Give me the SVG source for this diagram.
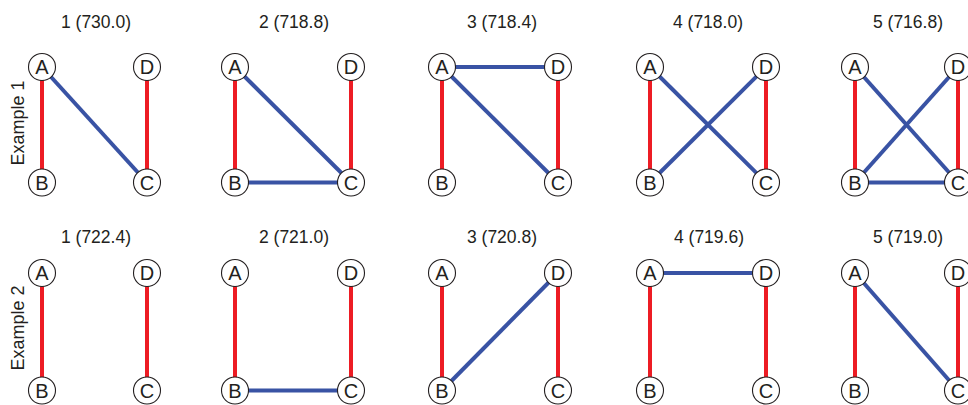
<svg xmlns="http://www.w3.org/2000/svg" width="968" height="405" viewBox="0 0 968 405">
  <style>
    .title { font-family: "Liberation Sans", Arial, sans-serif; font-size: 17.5px; fill: #231f20; text-anchor: middle; }
    .row { font-family: "Liberation Sans", Arial, sans-serif; font-size: 18px; fill: #231f20; text-anchor: middle; }
    .node circle { fill: #ffffff; stroke: #231f20; stroke-width: 1.1; }
    .node text { font-family: "Liberation Sans", Arial, sans-serif; font-size: 20px; fill: #231f20; text-anchor: middle; }
    .red { stroke: #ed1c24; stroke-width: 4; fill: none; }
    .blue { stroke: #3953a4; stroke-width: 4; fill: none; }
  </style>
  <rect width="968" height="405" fill="#ffffff"/>

  <!-- row labels -->
  <text class="row" transform="translate(24,123) rotate(-90)">Example 1</text>
  <text class="row" transform="translate(24,328) rotate(-90)">Example 2</text>

  <!-- panel titles -->
  <g id="titles">
    <text class="title" x="96" y="28">1 (730.0)</text>
    <text class="title" x="294" y="28">2 (718.8)</text>
    <text class="title" x="502" y="28">3 (718.4)</text>
    <text class="title" x="708" y="28">4 (718.0)</text>
    <text class="title" x="908" y="28">5 (716.8)</text>
    <text class="title" x="96" y="243">1 (722.4)</text>
    <text class="title" x="294" y="243">2 (721.0)</text>
    <text class="title" x="502" y="243">3 (720.8)</text>
    <text class="title" x="709" y="243">4 (719.6)</text>
    <text class="title" x="908" y="243">5 (719.0)</text>
  </g>

  <!-- edges -->
  <g id="connectors">
    <!-- row 1 -->
    <line class="red" x1="42" y1="67" x2="42" y2="182.5"/>
    <line class="red" x1="147" y1="67" x2="147" y2="182.5"/>
    <line class="blue" x1="42" y1="67" x2="147" y2="182.5"/>

    <line class="red" x1="235" y1="67" x2="235" y2="182.5"/>
    <line class="red" x1="351" y1="67" x2="351" y2="182.5"/>
    <line class="blue" x1="235" y1="67" x2="351" y2="182.5"/>
    <line class="blue" x1="235" y1="182.5" x2="351" y2="182.5"/>

    <line class="red" x1="442" y1="67" x2="442" y2="182.5"/>
    <line class="red" x1="558" y1="67" x2="558" y2="182.5"/>
    <line class="blue" x1="442" y1="67" x2="558" y2="67"/>
    <line class="blue" x1="442" y1="67" x2="558" y2="182.5"/>

    <line class="red" x1="650" y1="67" x2="650" y2="182.5"/>
    <line class="red" x1="766" y1="67" x2="766" y2="182.5"/>
    <line class="blue" x1="650" y1="67" x2="766" y2="182.5"/>
    <line class="blue" x1="650" y1="182.5" x2="766" y2="67"/>

    <line class="red" x1="855" y1="67" x2="855" y2="182.5"/>
    <line class="red" x1="958" y1="67" x2="958" y2="182.5"/>
    <line class="blue" x1="855" y1="67" x2="958" y2="182.5"/>
    <line class="blue" x1="855" y1="182.5" x2="958" y2="67"/>
    <line class="blue" x1="855" y1="182.5" x2="958" y2="182.5"/>

    <!-- row 2 -->
    <line class="red" x1="42" y1="273" x2="42" y2="390.5"/>
    <line class="red" x1="147" y1="273" x2="147" y2="390.5"/>

    <line class="red" x1="235" y1="273" x2="235" y2="390.5"/>
    <line class="red" x1="351" y1="273" x2="351" y2="390.5"/>
    <line class="blue" x1="235" y1="390.5" x2="351" y2="390.5"/>

    <line class="red" x1="442" y1="273" x2="442" y2="390.5"/>
    <line class="red" x1="558" y1="273" x2="558" y2="390.5"/>
    <line class="blue" x1="442" y1="390.5" x2="558" y2="273"/>

    <line class="red" x1="650" y1="273" x2="650" y2="390.5"/>
    <line class="red" x1="766" y1="273" x2="766" y2="390.5"/>
    <line class="blue" x1="650" y1="273" x2="766" y2="273"/>

    <line class="red" x1="855" y1="273" x2="855" y2="390.5"/>
    <line class="red" x1="958" y1="273" x2="958" y2="390.5"/>
    <line class="blue" x1="855" y1="273" x2="958" y2="390.5"/>
  </g>

  <!-- nodes, row 1 -->
  <g id="r1p1A" class="node"><circle cx="42" cy="67" r="13.5"/><text x="42" y="74.2">A</text></g>
  <g id="r1p1B" class="node"><circle cx="42" cy="182.5" r="13.5"/><text x="42" y="189.7">B</text></g>
  <g id="r1p1C" class="node"><circle cx="147" cy="182.5" r="13.5"/><text x="147" y="189.7">C</text></g>
  <g id="r1p1D" class="node"><circle cx="147" cy="67" r="13.5"/><text x="147" y="74.2">D</text></g>

  <g id="r1p2A" class="node"><circle cx="235" cy="67" r="13.5"/><text x="235" y="74.2">A</text></g>
  <g id="r1p2B" class="node"><circle cx="235" cy="182.5" r="13.5"/><text x="235" y="189.7">B</text></g>
  <g id="r1p2C" class="node"><circle cx="351" cy="182.5" r="13.5"/><text x="351" y="189.7">C</text></g>
  <g id="r1p2D" class="node"><circle cx="351" cy="67" r="13.5"/><text x="351" y="74.2">D</text></g>

  <g id="r1p3A" class="node"><circle cx="442" cy="67" r="13.5"/><text x="442" y="74.2">A</text></g>
  <g id="r1p3B" class="node"><circle cx="442" cy="182.5" r="13.5"/><text x="442" y="189.7">B</text></g>
  <g id="r1p3C" class="node"><circle cx="558" cy="182.5" r="13.5"/><text x="558" y="189.7">C</text></g>
  <g id="r1p3D" class="node"><circle cx="558" cy="67" r="13.5"/><text x="558" y="74.2">D</text></g>

  <g id="r1p4A" class="node"><circle cx="650" cy="67" r="13.5"/><text x="650" y="74.2">A</text></g>
  <g id="r1p4B" class="node"><circle cx="650" cy="182.5" r="13.5"/><text x="650" y="189.7">B</text></g>
  <g id="r1p4C" class="node"><circle cx="766" cy="182.5" r="13.5"/><text x="766" y="189.7">C</text></g>
  <g id="r1p4D" class="node"><circle cx="766" cy="67" r="13.5"/><text x="766" y="74.2">D</text></g>

  <g id="r1p5A" class="node"><circle cx="855" cy="67" r="13.5"/><text x="855" y="74.2">A</text></g>
  <g id="r1p5B" class="node"><circle cx="855" cy="182.5" r="13.5"/><text x="855" y="189.7">B</text></g>
  <g id="r1p5C" class="node"><circle cx="958" cy="182.5" r="13.5"/><text x="958" y="189.7">C</text></g>
  <g id="r1p5D" class="node"><circle cx="958" cy="67" r="13.5"/><text x="958" y="74.2">D</text></g>

  <!-- nodes, row 2 -->
  <g id="r2p1A" class="node"><circle cx="42" cy="273" r="13.5"/><text x="42" y="280.2">A</text></g>
  <g id="r2p1B" class="node"><circle cx="42" cy="390.5" r="13.5"/><text x="42" y="397.7">B</text></g>
  <g id="r2p1C" class="node"><circle cx="147" cy="390.5" r="13.5"/><text x="147" y="397.7">C</text></g>
  <g id="r2p1D" class="node"><circle cx="147" cy="273" r="13.5"/><text x="147" y="280.2">D</text></g>

  <g id="r2p2A" class="node"><circle cx="235" cy="273" r="13.5"/><text x="235" y="280.2">A</text></g>
  <g id="r2p2B" class="node"><circle cx="235" cy="390.5" r="13.5"/><text x="235" y="397.7">B</text></g>
  <g id="r2p2C" class="node"><circle cx="351" cy="390.5" r="13.5"/><text x="351" y="397.7">C</text></g>
  <g id="r2p2D" class="node"><circle cx="351" cy="273" r="13.5"/><text x="351" y="280.2">D</text></g>

  <g id="r2p3A" class="node"><circle cx="442" cy="273" r="13.5"/><text x="442" y="280.2">A</text></g>
  <g id="r2p3B" class="node"><circle cx="442" cy="390.5" r="13.5"/><text x="442" y="397.7">B</text></g>
  <g id="r2p3C" class="node"><circle cx="558" cy="390.5" r="13.5"/><text x="558" y="397.7">C</text></g>
  <g id="r2p3D" class="node"><circle cx="558" cy="273" r="13.5"/><text x="558" y="280.2">D</text></g>

  <g id="r2p4A" class="node"><circle cx="650" cy="273" r="13.5"/><text x="650" y="280.2">A</text></g>
  <g id="r2p4B" class="node"><circle cx="650" cy="390.5" r="13.5"/><text x="650" y="397.7">B</text></g>
  <g id="r2p4C" class="node"><circle cx="766" cy="390.5" r="13.5"/><text x="766" y="397.7">C</text></g>
  <g id="r2p4D" class="node"><circle cx="766" cy="273" r="13.5"/><text x="766" y="280.2">D</text></g>

  <g id="r2p5A" class="node"><circle cx="855" cy="273" r="13.5"/><text x="855" y="280.2">A</text></g>
  <g id="r2p5B" class="node"><circle cx="855" cy="390.5" r="13.5"/><text x="855" y="397.7">B</text></g>
  <g id="r2p5C" class="node"><circle cx="958" cy="390.5" r="13.5"/><text x="958" y="397.7">C</text></g>
  <g id="r2p5D" class="node"><circle cx="958" cy="273" r="13.5"/><text x="958" y="280.2">D</text></g>
</svg>
